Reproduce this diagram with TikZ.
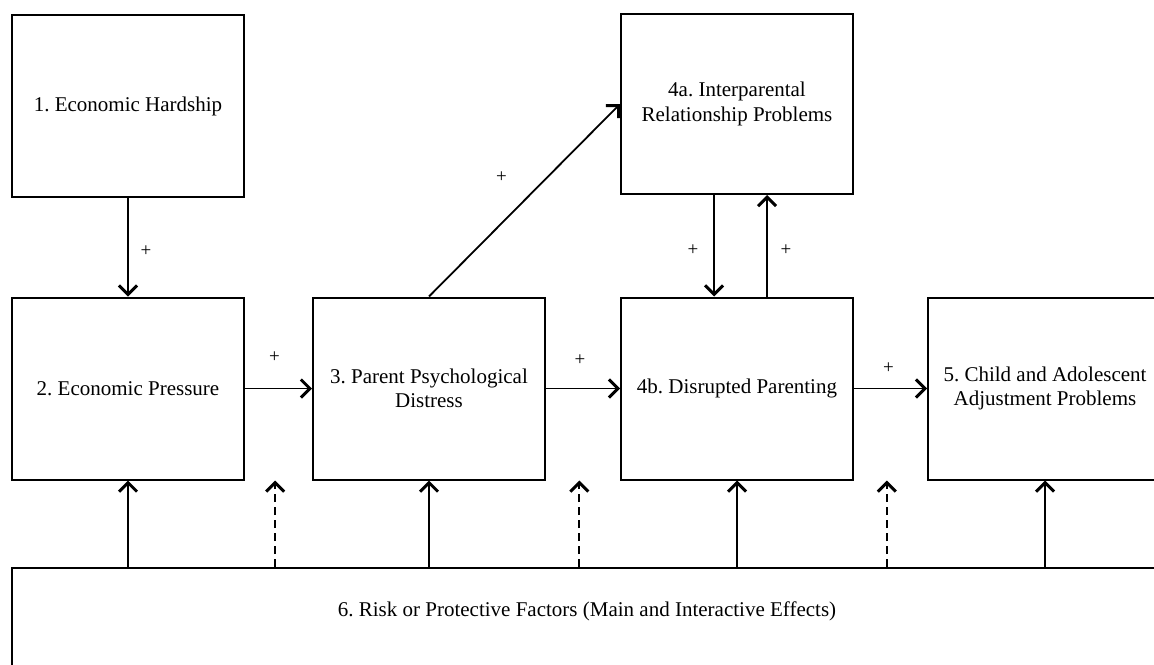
\documentclass[tikz,border=0pt]{standalone}
\usepackage{fontspec}
\setmainfont{Liberation Serif}
\usetikzlibrary{arrows.meta,calc}
\frenchspacing

\tikzset{
  box/.style={draw, line width=1pt, minimum width=116pt, minimum height=91pt,
    align=center, inner sep=2pt, font=\fontsize{10.5}{12.2}\selectfont},
  arr/.style={line width=0.9pt, -{Straight Barb[length=4.5pt,width=9pt,line width=1.5pt]}},
  plus/.style={midway, font=\fontsize{9.5}{10}\selectfont},
}

\begin{document}
\begin{tikzpicture}[x=0.5pt, y=-0.5pt]
  \useasboundingbox (0,0) rectangle (1154,664);
  \clip (0,0) rectangle (1154,664);
	% boxes
	\node[box] (B-1) at (128,106) {1. Economic Hardship};
	\node[box] (B-2) at (128,388.5) {2. Economic Pressure};
	\node[box] (B-3) at (429,388.5) {3. Parent Psychological\\Distress};
	\node[box, minimum height=90pt] (B-4a) at (737,104) {4a. Interparental\\Relationship Problems};
	\node[box] (B-4b) at (737,388.5) {4b. Disrupted Parenting};
	\node[box, minimum width=117pt] (B-5) at (1045,388.5) {5. Child and Adolescent\\Adjustment Problems};
	\node[box, anchor=north, minimum width=575pt, minimum height=0pt, inner ysep=0pt,
	  text height=24pt, text depth=40pt] (B-6) at (587,567) {6. Risk or Protective Factors (Main and Interactive Effects)};
	% paths
	\draw[arr] (B-1) -- (B-2) node[plus, xshift=9pt, yshift=-2pt] {+};
	\draw[arr] (B-2) -- (B-3) node[plus, xshift=-2pt, yshift=15.5pt] {+};
	\draw[arr] (B-3) -- (B-4b) node[plus, xshift=-1.5pt, yshift=14pt] {+};
	\draw[arr] (B-4b) -- (B-5) node[plus, xshift=-1pt, yshift=10pt] {+};
	\draw[arr] (B-3.north) -- (B-4a.west) node[plus, xshift=-11.5pt, yshift=11.5pt] {+};
	\draw[arr] ([xshift=-11.5pt]B-4a.south) -- ([xshift=-11.5pt]B-4b.north) node[plus, xshift=-10.5pt, yshift=-2pt] {+};
	\draw[arr] ([xshift=15pt]B-4b.north) -- ([xshift=15pt]B-4a.south) node[plus, xshift=9.5pt, yshift=-2pt] {+};
	% effects of box 6
	\foreach \n in {2,3,4b,5}
	  \draw[arr] (B-6.north -| B-\n.south) -- (B-\n.south);
	\foreach \a/\b in {2/3,3/4b,4b/5}{%
	  \coordinate (M-\a) at ($(B-\a.south east)!.45!(B-\b.south west)$);
	  \draw[arr, dash pattern=on 4pt off 2.5pt] (B-6.north -| M-\a) -- (M-\a);
	}
\end{tikzpicture}
\end{document}
